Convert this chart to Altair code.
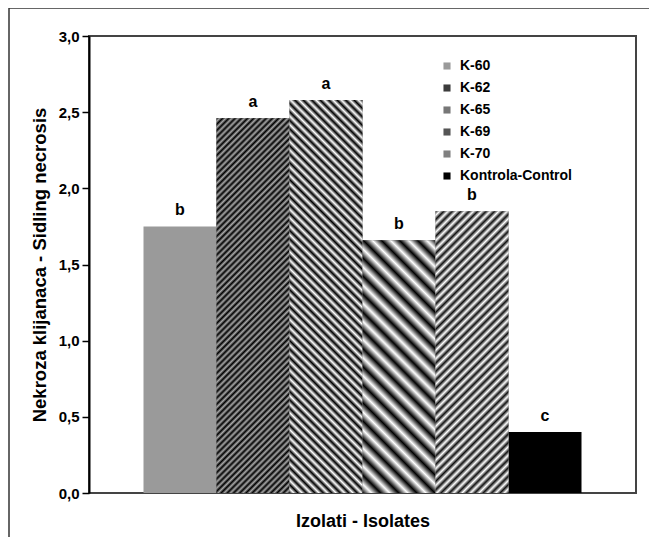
import math
import altair as alt
import pandas as pd

isolates = ["K-60", "K-62", "K-65", "K-69", "K-70", "Kontrola-Control"]
values = [1.75, 2.46, 2.58, 1.66, 1.85, 0.40]
letters = ["b", "a", "a", "b", "b", "c"]
legend_colors = ["#9a9a9a", "#3c3c3c", "#777777", "#555555", "#808080", "#000000"]

# stripe styling per isolate: (direction, period px, dark colour, light colour)
stripes = {
    "K-62": ("/", 4.4, "#000000", "#a8a8a8"),
    "K-65": ("\\", 6.0, "#000000", "#ffffff"),
    "K-69": ("\\", 13.0, "#000000", "#ffffff"),
    "K-70": ("/", 6.0, "#111111", "#ffffff"),
}

FONT = "Liberation Sans"
W, H = 547, 457
YMAX = 3.0
STEP = 73
pad_outer = (W / STEP - len(isolates)) / 2

df = pd.DataFrame({"isolate": isolates, "value": values, "letter": letters})

x_enc = alt.X(
    "isolate:N",
    sort=isolates,
    scale=alt.Scale(paddingInner=0, paddingOuter=pad_outer),
    axis=alt.Axis(labels=False, ticks=False, domain=False, grid=False,
                  title="Izolati - Isolates", titleFont=FONT, titleFontSize=18,
                  titleFontWeight="bold", titleColor="black", titlePadding=19),
)
y_enc = alt.Y(
    "value:Q",
    scale=alt.Scale(domain=[0, YMAX], nice=False),
    axis=alt.Axis(values=[0, 0.5, 1.0, 1.5, 2.0, 2.5, 3.0], grid=False,
                  labelExpr="replace(format(datum.value, '.1f'), '.', ',')",
                  labelFont=FONT, labelFontSize=15, labelFontWeight="bold",
                  labelColor="black", labelPadding=3,
                  tickSize=7, tickColor="black", tickWidth=1.5,
                  domainColor="black", domainWidth=2,
                  title="Nekroza klijanaca - Sidling necrosis", titleFont=FONT,
                  titleFontSize=18.5, titleFontWeight="bold", titleColor="black",
                  titlePadding=9),
)

base = alt.Chart(df)

bars = base.mark_bar().encode(
    x=x_enc,
    y=y_enc,
    color=alt.Color(
        "isolate:N",
        sort=isolates,
        scale=alt.Scale(domain=isolates, range=legend_colors),
        legend=alt.Legend(title=None, orient="none", legendX=351, legendY=23,
                          symbolType="square", symbolSize=50, symbolStrokeWidth=0,
                          labelFont=FONT, labelFontSize=14, labelFontWeight="bold",
                          labelColor="black", rowPadding=8, padding=0, labelOffset=6),
    ),
)


def stripe_gradient(value, direction, period, c1, c2):
    w = STEP
    h = value / YMAX * H
    k = (w + h) / (w * w + h * h)
    gx, gy = w * k, h * k
    n = max(1, int(round((w + h) / math.sqrt(2) / period)))
    stops = []
    for i in range(n):
        stops.append({"offset": i / n, "color": c1})
        stops.append({"offset": (i + 0.5) / n, "color": c2})
    stops.append({"offset": 1.0, "color": c1})
    if direction == "/":
        x1, y1, x2, y2 = 0, 0, gx, gy
    else:
        x1, y1, x2, y2 = 0, 1, gx, 1 - gy
    return {"gradient": "linear", "x1": x1, "y1": y1, "x2": x2, "y2": y2, "stops": stops}


layers = [bars]
for name, val in zip(isolates, values):
    if name in stripes:
        d, p, c1, c2 = stripes[name]
        layers.append(
            base.transform_filter(alt.datum.isolate == name)
            .mark_bar(fill=stripe_gradient(val, d, p, c1, c2))
            .encode(x=x_enc, y=y_enc)
        )

text = base.mark_text(dy=-11, baseline="alphabetic", font=FONT, fontSize=16,
                      fontWeight="bold", color="black").encode(
    x=x_enc, y=y_enc, text="letter:N"
)
layers.append(text)

frame_df = pd.DataFrame({"f": [0]})
frame_left = alt.Chart(frame_df).mark_rule(color="#333333", strokeWidth=1.5).encode(
    x=alt.value(-80), y=alt.value(-28), y2=alt.value(H + 44)
)
frame_top = alt.Chart(frame_df).mark_rule(color="#333333", strokeWidth=1.5).encode(
    x=alt.value(-80), x2=alt.value(W + 13), y=alt.value(-28)
)
layers += [frame_left, frame_top]

chart = alt.layer(*layers).properties(
    width=W, height=H,
    padding={"left": 81, "top": 28, "right": 13, "bottom": 44},
    autosize=alt.AutoSizeParams(type="none"),
).configure_view(stroke="#444444", strokeWidth=2)

chart.save("out.html", embed_options={"renderer": "svg", "actions": False})
